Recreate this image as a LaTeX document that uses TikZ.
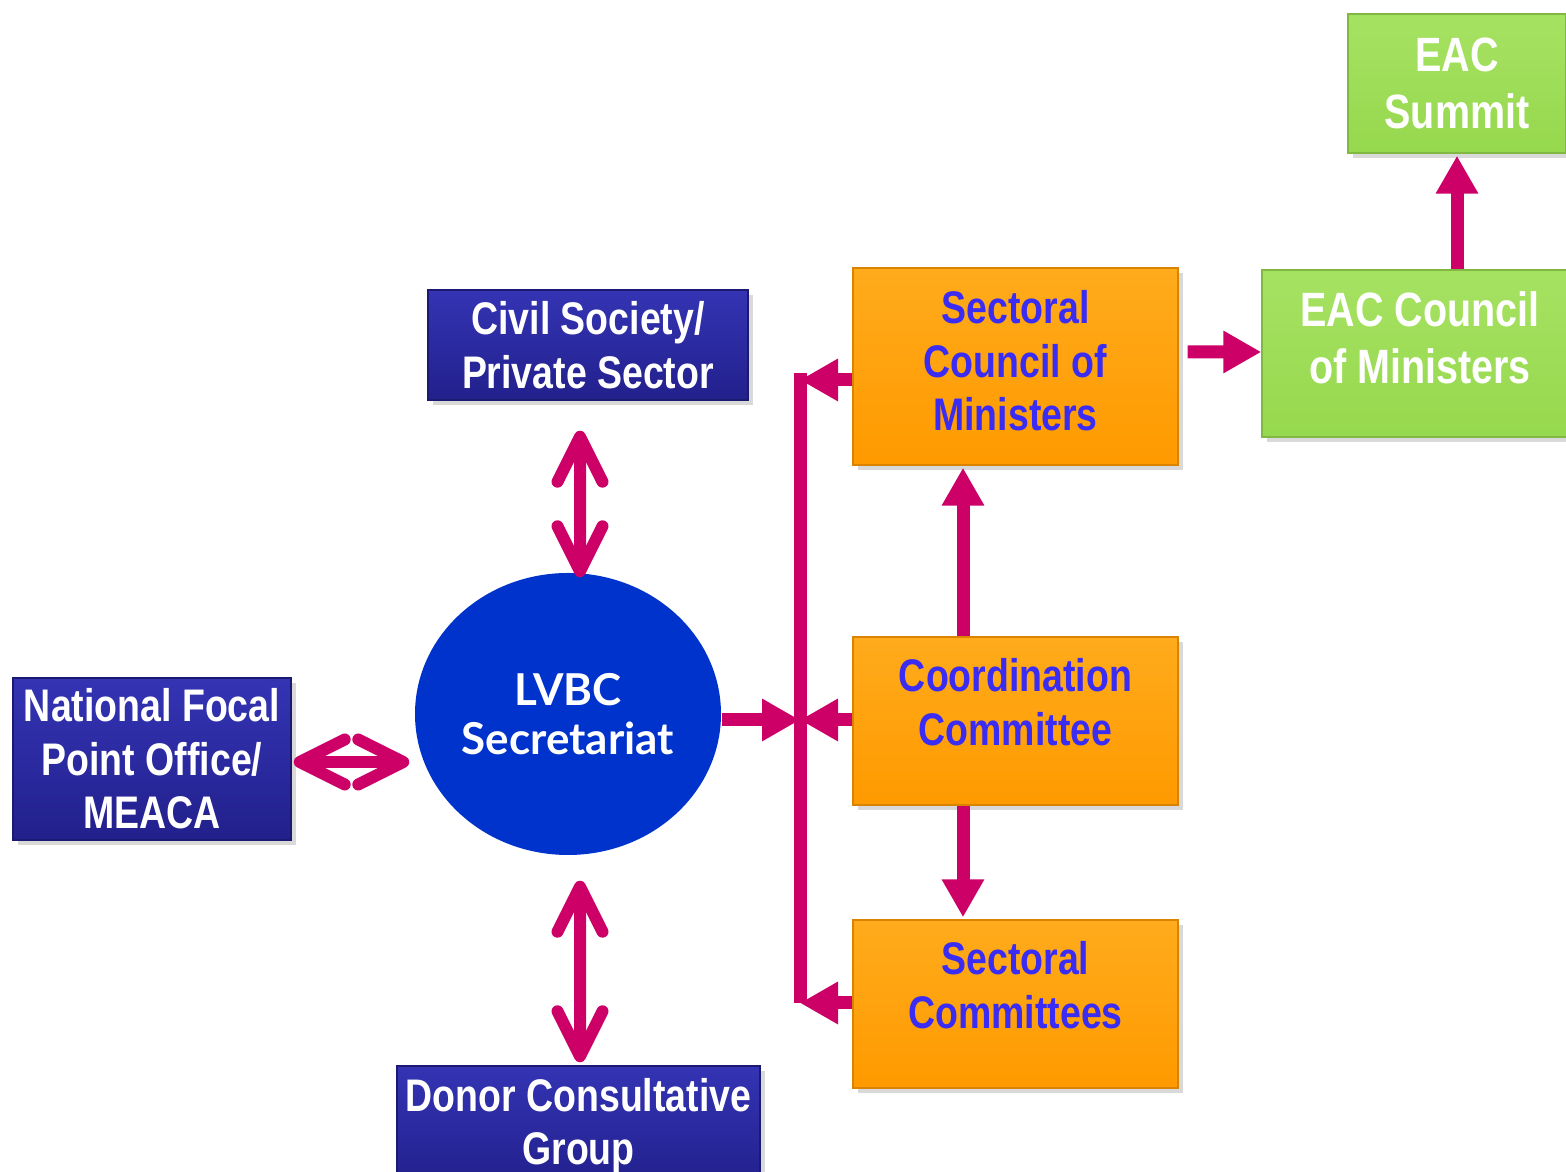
\documentclass[tikz,border=0pt]{standalone}
\usepackage{fontspec}
\setmainfont{Liberation Sans}[FakeStretch=0.82]
\newfontfamily\hubfont{Lato}
\definecolor{navytop}{HTML}{3434B4}
\definecolor{navybot}{HTML}{22208C}
\definecolor{orangetop}{HTML}{FFAB1C}
\definecolor{orangebot}{HTML}{FF9A00}
\definecolor{greentop}{HTML}{A6E262}
\definecolor{greenbot}{HTML}{96D84E}
\definecolor{hubblue}{HTML}{0033CC}
\definecolor{labelblue}{HTML}{3A2CF2}
\definecolor{linkred}{HTML}{CC0066}
\usepackage{tikz}
\usetikzlibrary{arrows.meta, shadows, shapes.geometric, positioning}
\tikzset{
	basebox/.style={
			rectangle,
			align=center,
			inner sep=0pt,
			font=\fontsize{13}{15.2}\selectfont\bfseries,
			drop shadow={opacity=0.3, shadow xshift=0.05cm, shadow yshift=-0.05cm}
		},
	navynode/.style={
			basebox,
			draw=navybot!80!black,
			top color=navytop,
			bottom color=navybot,
			text=white
		},
	orangenode/.style={
			basebox,
			draw=orangebot!85!black,
			top color=orangetop,
			bottom color=orangebot,
			text=labelblue
		},
	greennode/.style={
			basebox,
			draw=greenbot!85!black,
			top color=greentop,
			bottom color=greenbot,
			text=white,
			font=\fontsize{13.7}{16.2}\selectfont\bfseries
		},
	hubnode/.style={
			ellipse,
			fill=hubblue,
			text=white,
			align=center,
			inner sep=0pt,
			minimum width=3.06cm,
			minimum height=2.82cm,
			font=\hubfont\fontsize{12.5}{14}\selectfont\bfseries
		},
	linkarrow/.style={
			draw=linkred,
			line width=0.13cm,
			-{Triangle[length=0.38cm, width=0.4cm]}
		},
	twowayarrow/.style={
			draw=linkred,
			line width=0.12cm,
			{Straight Barb[round, length=0.45cm, width=0.45cm]}-{Straight Barb[round, length=0.45cm, width=0.45cm]}
		}
}

\begin{document}
\begin{tikzpicture}
\clip (0,0) rectangle (15.66,11.72);

\node[hubnode] (lvbc) at (5.68,4.58) {LVBC\\Secretariat};

\node[navynode, minimum width=3.2cm, minimum height=1.1cm] (civil) at (5.88,8.27) {Civil Society/\\Private Sector};
\node[navynode, minimum width=2.78cm, minimum height=1.62cm] (nfp) at (1.52,4.13) {National Focal\\Point Office/\\MEACA};
\node[navynode, minimum width=3.63cm, minimum height=1.2cm] (donor) at (5.785,0.46) {Donor Consultative\\Group};

% text sits a little high in these boxes
\node[orangenode, minimum width=3.25cm, minimum height=1.97cm, text depth=0.12cm] (scm) at (10.155,8.055) {Sectoral\\Council of\\Ministers};
\node[orangenode, minimum width=3.25cm, minimum height=1.68cm, text depth=0.38cm] (coord) at (10.155,4.51) {Coordination\\Committee};
\node[orangenode, minimum width=3.25cm, minimum height=1.68cm, text depth=0.38cm] (secc) at (10.155,1.68) {Sectoral\\Committees};

\node[greennode, minimum width=3.16cm, minimum height=1.67cm, text depth=0.31cm] (eacc) at (14.2,8.185) {EAC Council\\of Ministers};
\node[greennode, minimum width=2.18cm, minimum height=1.39cm] (summit) at (14.57,10.885) {EAC\\Summit};

% junctions on the collector line
\coordinate (bt) at (8.0,7.92);
\coordinate (bm) at (8.0,4.52);
\coordinate (bb) at (8.0,1.69);

\draw[draw=linkred, line width=0.13cm] ([yshift=0.065cm]bt) -- (bb);

\draw[linkarrow] (lvbc.east |- bm) -- (bm);
\draw[linkarrow] (scm.west |- bt) -- (bt);
\draw[linkarrow] (coord.west |- bm) -- (bm);
\draw[linkarrow] (secc.west |- bb) -- (bb);

\draw[linkarrow] ([xshift=-0.525cm]coord.north) -- ([xshift=-0.525cm, yshift=-0.02cm]scm.south);
\draw[linkarrow] ([xshift=-0.525cm]coord.south) -- ([xshift=-0.525cm, yshift=0.02cm]secc.north);

\draw[linkarrow] ([shift={(0.09cm,0.145cm)}]scm.east) -- (eacc.west |- 12.62,8.2);
\draw[linkarrow] (summit.south |- eacc.north) -- ([yshift=-0.02cm]summit.south);

\draw[twowayarrow] ([xshift=-0.08cm, yshift=-0.3cm]civil.south) -- ([xshift=0.12cm, yshift=-0.05cm]lvbc.north);
\draw[twowayarrow] ([xshift=0.12cm, yshift=-0.25cm]lvbc.south) -- ([xshift=0.015cm, yshift=0.03cm]donor.north);
\draw[twowayarrow] ([shift={(0.02cm,-0.03cm)}]nfp.east) -- ([shift={(-0.05cm,-0.48cm)}]lvbc.west);

\end{tikzpicture}
\end{document}
